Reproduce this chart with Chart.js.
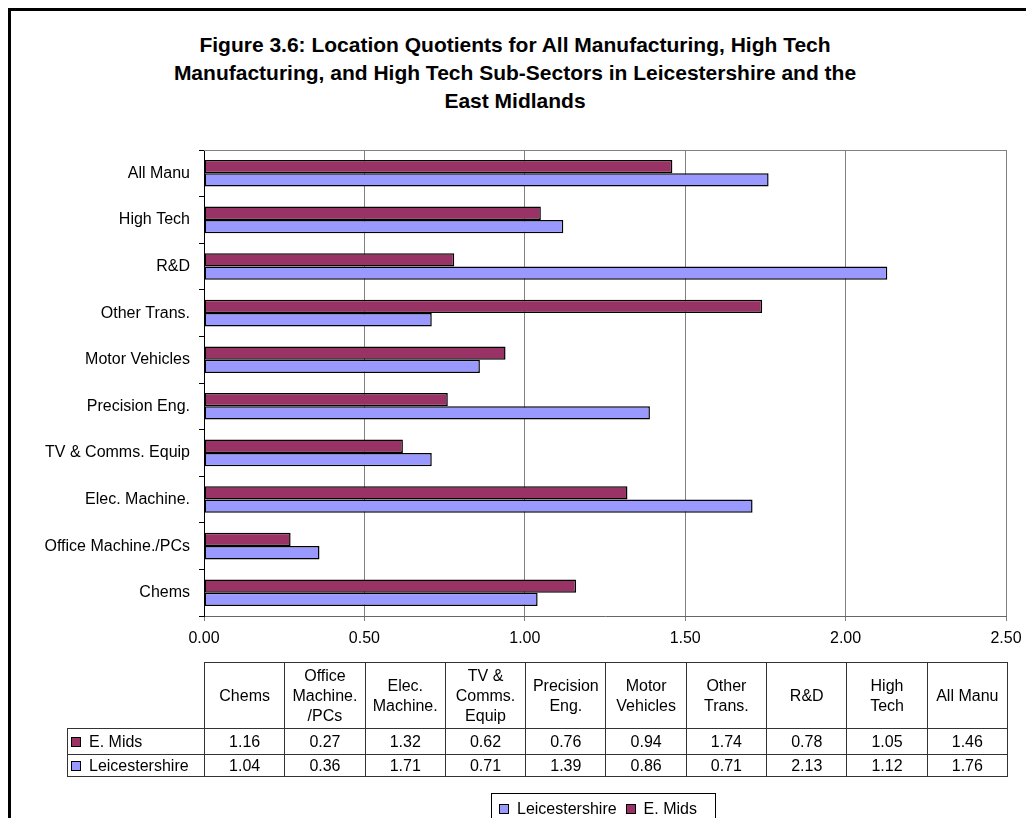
<!DOCTYPE html>
<html>
<head>
<meta charset="utf-8">
<script src="https://cdn.jsdelivr.net/npm/chart.js@4.4.1/dist/chart.umd.min.js"></script>
<style>
  body { margin: 0; width: 1026px; height: 818px; overflow: hidden; background: #fff; color: #000;
         font-family: "Liberation Sans", Arial, sans-serif; }
  #frame { position: absolute; left: 8px; top: 8px; width: 1100px; height: 900px; border: 3px solid #000; box-sizing: border-box; }
  #title { position: absolute; left: 8px; width: 1014px; top: 31px; text-align: center;
           font-weight: bold; font-size: 21px; line-height: 28px; }
  #chart { position: absolute; left: 0; top: 0; }
  #dataTable { position: absolute; left: 67px; top: 662px; border-collapse: collapse; table-layout: fixed;
               width: 940px; font-size: 16px; }
  #dataTable td { border: 1px solid #333; text-align: center; padding: 0; line-height: 20px; }
  #dataTable td.blank { border: none; }
  #dataTable tr.head td { height: 65px; }
  #dataTable td.rowname { text-align: left; padding-left: 3px; white-space: nowrap; }
  .key { display: inline-block; width: 10px; height: 10px; border: 1px solid #000; box-sizing: border-box;
         margin-right: 8px; vertical-align: 0px; }
  #legend { position: absolute; left: 491px; top: 793px; width: 225px; height: 40px; border: 1px solid #000;
            box-sizing: border-box; font-size: 16px; padding: 6px 0 0 7px; white-space: nowrap; }
  #legend .key { margin-right: 8px; }
  #legend span.item { margin-right: 9px; }
</style>
</head>
<body>
<div id="frame"></div>
<div id="title">Figure 3.6: Location Quotients for All Manufacturing, High Tech<br>Manufacturing, and High Tech Sub-Sectors in Leicestershire and the<br>East Midlands</div>
<canvas id="chart" width="1026" height="818"></canvas>
<table id="dataTable"></table>
<div id="legend"></div>
<script>
// sectors, bottom to top on the chart (left to right in the table)
const categories = ['Chems', 'Office Machine./PCs', 'Elec. Machine.', 'TV & Comms. Equip', 'Precision Eng.',
                    'Motor Vehicles', 'Other Trans.', 'R&D', 'High Tech', 'All Manu'];
const headerLines = [['Chems'], ['Office', 'Machine.', '/PCs'], ['Elec.', 'Machine.'], ['TV &', 'Comms.', 'Equip'],
                     ['Precision', 'Eng.'], ['Motor', 'Vehicles'], ['Other', 'Trans.'], ['R&D'], ['High', 'Tech'], ['All Manu']];
const eMids = [1.16, 0.27, 1.32, 0.62, 0.76, 0.94, 1.74, 0.78, 1.05, 1.46];
const leics = [1.04, 0.36, 1.71, 0.71, 1.39, 0.86, 0.71, 2.13, 1.12, 1.76];
const xTicks = [0, 0.5, 1, 1.5, 2, 2.5];

const EMIDS_COLOR = '#993366';
const LEICS_COLOR = '#9999ff';
const FONT = '"Liberation Sans", Arial, sans-serif';

// grey line along the top of the plot area
const plotFrame = {
  id: 'plotFrame',
  beforeDatasetsDraw(chart) {
    const { ctx, chartArea: a } = chart;
    ctx.save();
    ctx.strokeStyle = '#808080';
    ctx.lineWidth = 1;
    ctx.beginPath();
    ctx.moveTo(a.left, a.top + 0.5);
    ctx.lineTo(a.right, a.top + 0.5);
    ctx.stroke();
    ctx.restore();
  }
};

new Chart(document.getElementById('chart'), {
  type: 'bar',
  data: {
    labels: categories,
    datasets: [
      { label: 'E. Mids', data: eMids, backgroundColor: EMIDS_COLOR, borderColor: '#000', borderWidth: 1.5,
        borderSkipped: false, categoryPercentage: 0.57, barPercentage: 1 },
      { label: 'Leicestershire', data: leics, backgroundColor: LEICS_COLOR, borderColor: '#000', borderWidth: 1.5,
        borderSkipped: false, categoryPercentage: 0.57, barPercentage: 1 }
    ]
  },
  options: {
    indexAxis: 'y',
    responsive: false,
    animation: false,
    layout: { padding: { top: 150, right: 20, bottom: 162, left: 0 } },
    plugins: { legend: { display: false }, tooltip: { enabled: false } },
    scales: {
      x: {
        min: 0, max: 2.5,
        afterBuildTicks: s => { s.ticks = xTicks.map(v => ({ value: v })); },
        afterFit: s => { s.height = 40; s.paddingLeft = 0; s.paddingRight = 0; },
        ticks: { callback: v => Number(v).toFixed(2), color: '#000', font: { family: FONT, size: 16 }, padding: 8, maxRotation: 0 },
        grid: { color: '#808080', tickLength: 5 },
        border: { color: '#666' }
      },
      y: {
        reverse: true,
        afterFit: s => { s.width = 204; },
        ticks: { color: '#000', font: { family: FONT, size: 16 }, padding: 9 },
        grid: { drawOnChartArea: false, color: '#000', tickLength: 5 },
        border: { color: '#000' }
      }
    }
  },
  plugins: [plotFrame]
});

// data table under the chart
const esc = s => s.replace(/&/g, '&amp;');
let html = '<colgroup><col style="width:137px">' + categories.map(() => '<col style="width:80.3px">').join('') + '</colgroup>';
html += '<tr class="head"><td class="blank"></td>' +
  headerLines.map(l => '<td>' + l.map(esc).join('<br>') + '</td>').join('') + '</tr>';
[['E. Mids', eMids, EMIDS_COLOR, 26], ['Leicestershire', leics, LEICS_COLOR, 22]].forEach(([name, vals, color, h]) => {
  html += '<tr style="height:' + h + 'px"><td class="rowname"><span class="key" style="background:' + color + '"></span>' + name + '</td>' +
    vals.map(v => '<td>' + v.toFixed(2) + '</td>').join('') + '</tr>';
});
document.getElementById('dataTable').innerHTML = html;

document.getElementById('legend').innerHTML =
  '<span class="item"><span class="key" style="background:' + LEICS_COLOR + '"></span>Leicestershire</span>' +
  '<span class="item"><span class="key" style="background:' + EMIDS_COLOR + '"></span>E. Mids</span>';
</script>
</body>
</html>
